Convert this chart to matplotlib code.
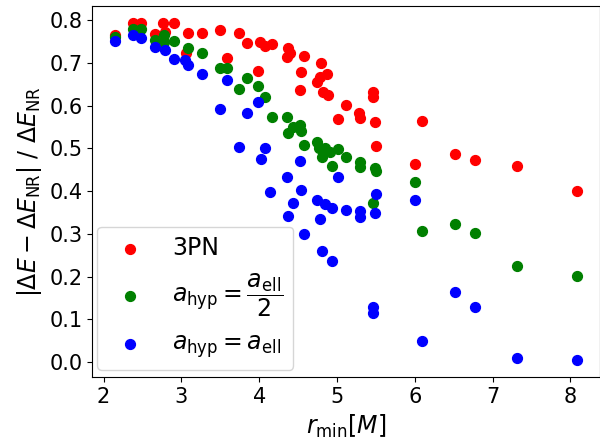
import matplotlib
matplotlib.use('Agg')
import matplotlib.pyplot as plt
from matplotlib.ticker import MultipleLocator

# 3PN comparison
r_3pn = [2.15, 2.38, 2.48, 2.66, 2.76, 2.79, 2.91, 3.08, 3.06, 3.26, 3.50,
         3.58, 3.74, 3.84, 4.01, 4.07, 4.16, 3.99, 4.37, 4.39, 4.36, 4.57,
         4.54, 4.53, 4.80, 4.87, 4.78, 4.74, 4.82, 4.89, 5.12, 5.01, 5.28,
         5.29, 5.46, 5.46, 5.49, 5.50, 6.09, 6.00, 6.52, 6.78, 7.31, 8.08]
err_3pn = [0.765, 0.793, 0.793, 0.767, 0.794, 0.773, 0.794, 0.770, 0.724,
           0.769, 0.777, 0.712, 0.771, 0.747, 0.749, 0.739, 0.744, 0.681,
           0.734, 0.722, 0.714, 0.717, 0.679, 0.636, 0.699, 0.675, 0.667,
           0.656, 0.632, 0.625, 0.601, 0.568, 0.582, 0.572, 0.632, 0.621,
           0.562, 0.505, 0.563, 0.464, 0.488, 0.472, 0.458, 0.400]

# a_hyp = a_ell / 2
r_half = [2.15, 2.38, 2.48, 2.66, 2.77, 2.77, 2.91, 3.09, 3.26, 3.50, 3.58,
          3.84, 3.74, 3.99, 4.07, 4.16, 4.36, 4.44, 4.37, 4.53, 4.54, 4.57,
          4.74, 4.77, 4.84, 4.91, 5.01, 4.81, 4.93, 5.12, 5.29, 5.29, 5.49,
          5.50, 5.46, 6.00, 6.09, 6.52, 6.78, 7.31, 8.08]
err_half = [0.761, 0.779, 0.779, 0.753, 0.765, 0.749, 0.751, 0.734, 0.722,
            0.687, 0.689, 0.665, 0.638, 0.645, 0.621, 0.573, 0.573, 0.550,
            0.536, 0.554, 0.540, 0.509, 0.515, 0.502, 0.500, 0.492, 0.498,
            0.479, 0.459, 0.479, 0.468, 0.457, 0.454, 0.447, 0.372, 0.422,
            0.307, 0.324, 0.302, 0.225, 0.201]

# a_hyp = a_ell
r_full = [2.15, 2.38, 2.48, 2.66, 2.79, 2.91, 3.05, 3.09, 3.26, 3.58, 3.50,
          3.84, 3.99, 3.74, 4.08, 4.02, 4.14, 4.36, 4.53, 4.54, 5.01, 4.43,
          4.74, 4.84, 4.93, 5.11, 5.29, 5.29, 5.49, 5.50, 4.37, 4.78, 4.58,
          4.81, 4.94, 5.46, 5.46, 6.09, 6.00, 6.52, 6.78, 7.31, 8.08]
err_full = [0.751, 0.765, 0.757, 0.738, 0.730, 0.708, 0.707, 0.696, 0.674,
            0.660, 0.593, 0.583, 0.609, 0.503, 0.501, 0.475, 0.398, 0.433,
            0.471, 0.402, 0.433, 0.373, 0.379, 0.369, 0.361, 0.357, 0.353,
            0.340, 0.348, 0.393, 0.342, 0.334, 0.300, 0.259, 0.237, 0.129,
            0.115, 0.049, 0.380, 0.163, 0.130, 0.009, 0.004]

fig = plt.figure(figsize=(6.0, 4.45), dpi=100)
ax = fig.add_axes([0.1537, 0.152, 0.8458, 0.835])

ax.scatter(r_3pn, err_3pn, s=50, color='red', label='3PN')
ax.scatter(r_half, err_half, s=50, color='green',
           label=r'$a_{\rm hyp}=\dfrac{a_{\rm ell}}{2}$')
ax.scatter(r_full, err_full, s=50, color='blue',
           label=r'$a_{\rm hyp}=a_{\rm ell}$')

ax.set_xlabel(r'$r_{\rm min}[M]$', fontsize=17)
ax.set_ylabel(r'$|\Delta E-\Delta E_{\rm NR}|\ /\ \Delta E_{\rm NR}$', fontsize=17)
ax.yaxis.set_major_locator(MultipleLocator(0.1))
ax.tick_params(labelsize=15)

ax.legend(loc='lower left', bbox_to_anchor=(0.009, 0.02), borderaxespad=0,
          fontsize=17)

fig.savefig('out.png', dpi=100)
